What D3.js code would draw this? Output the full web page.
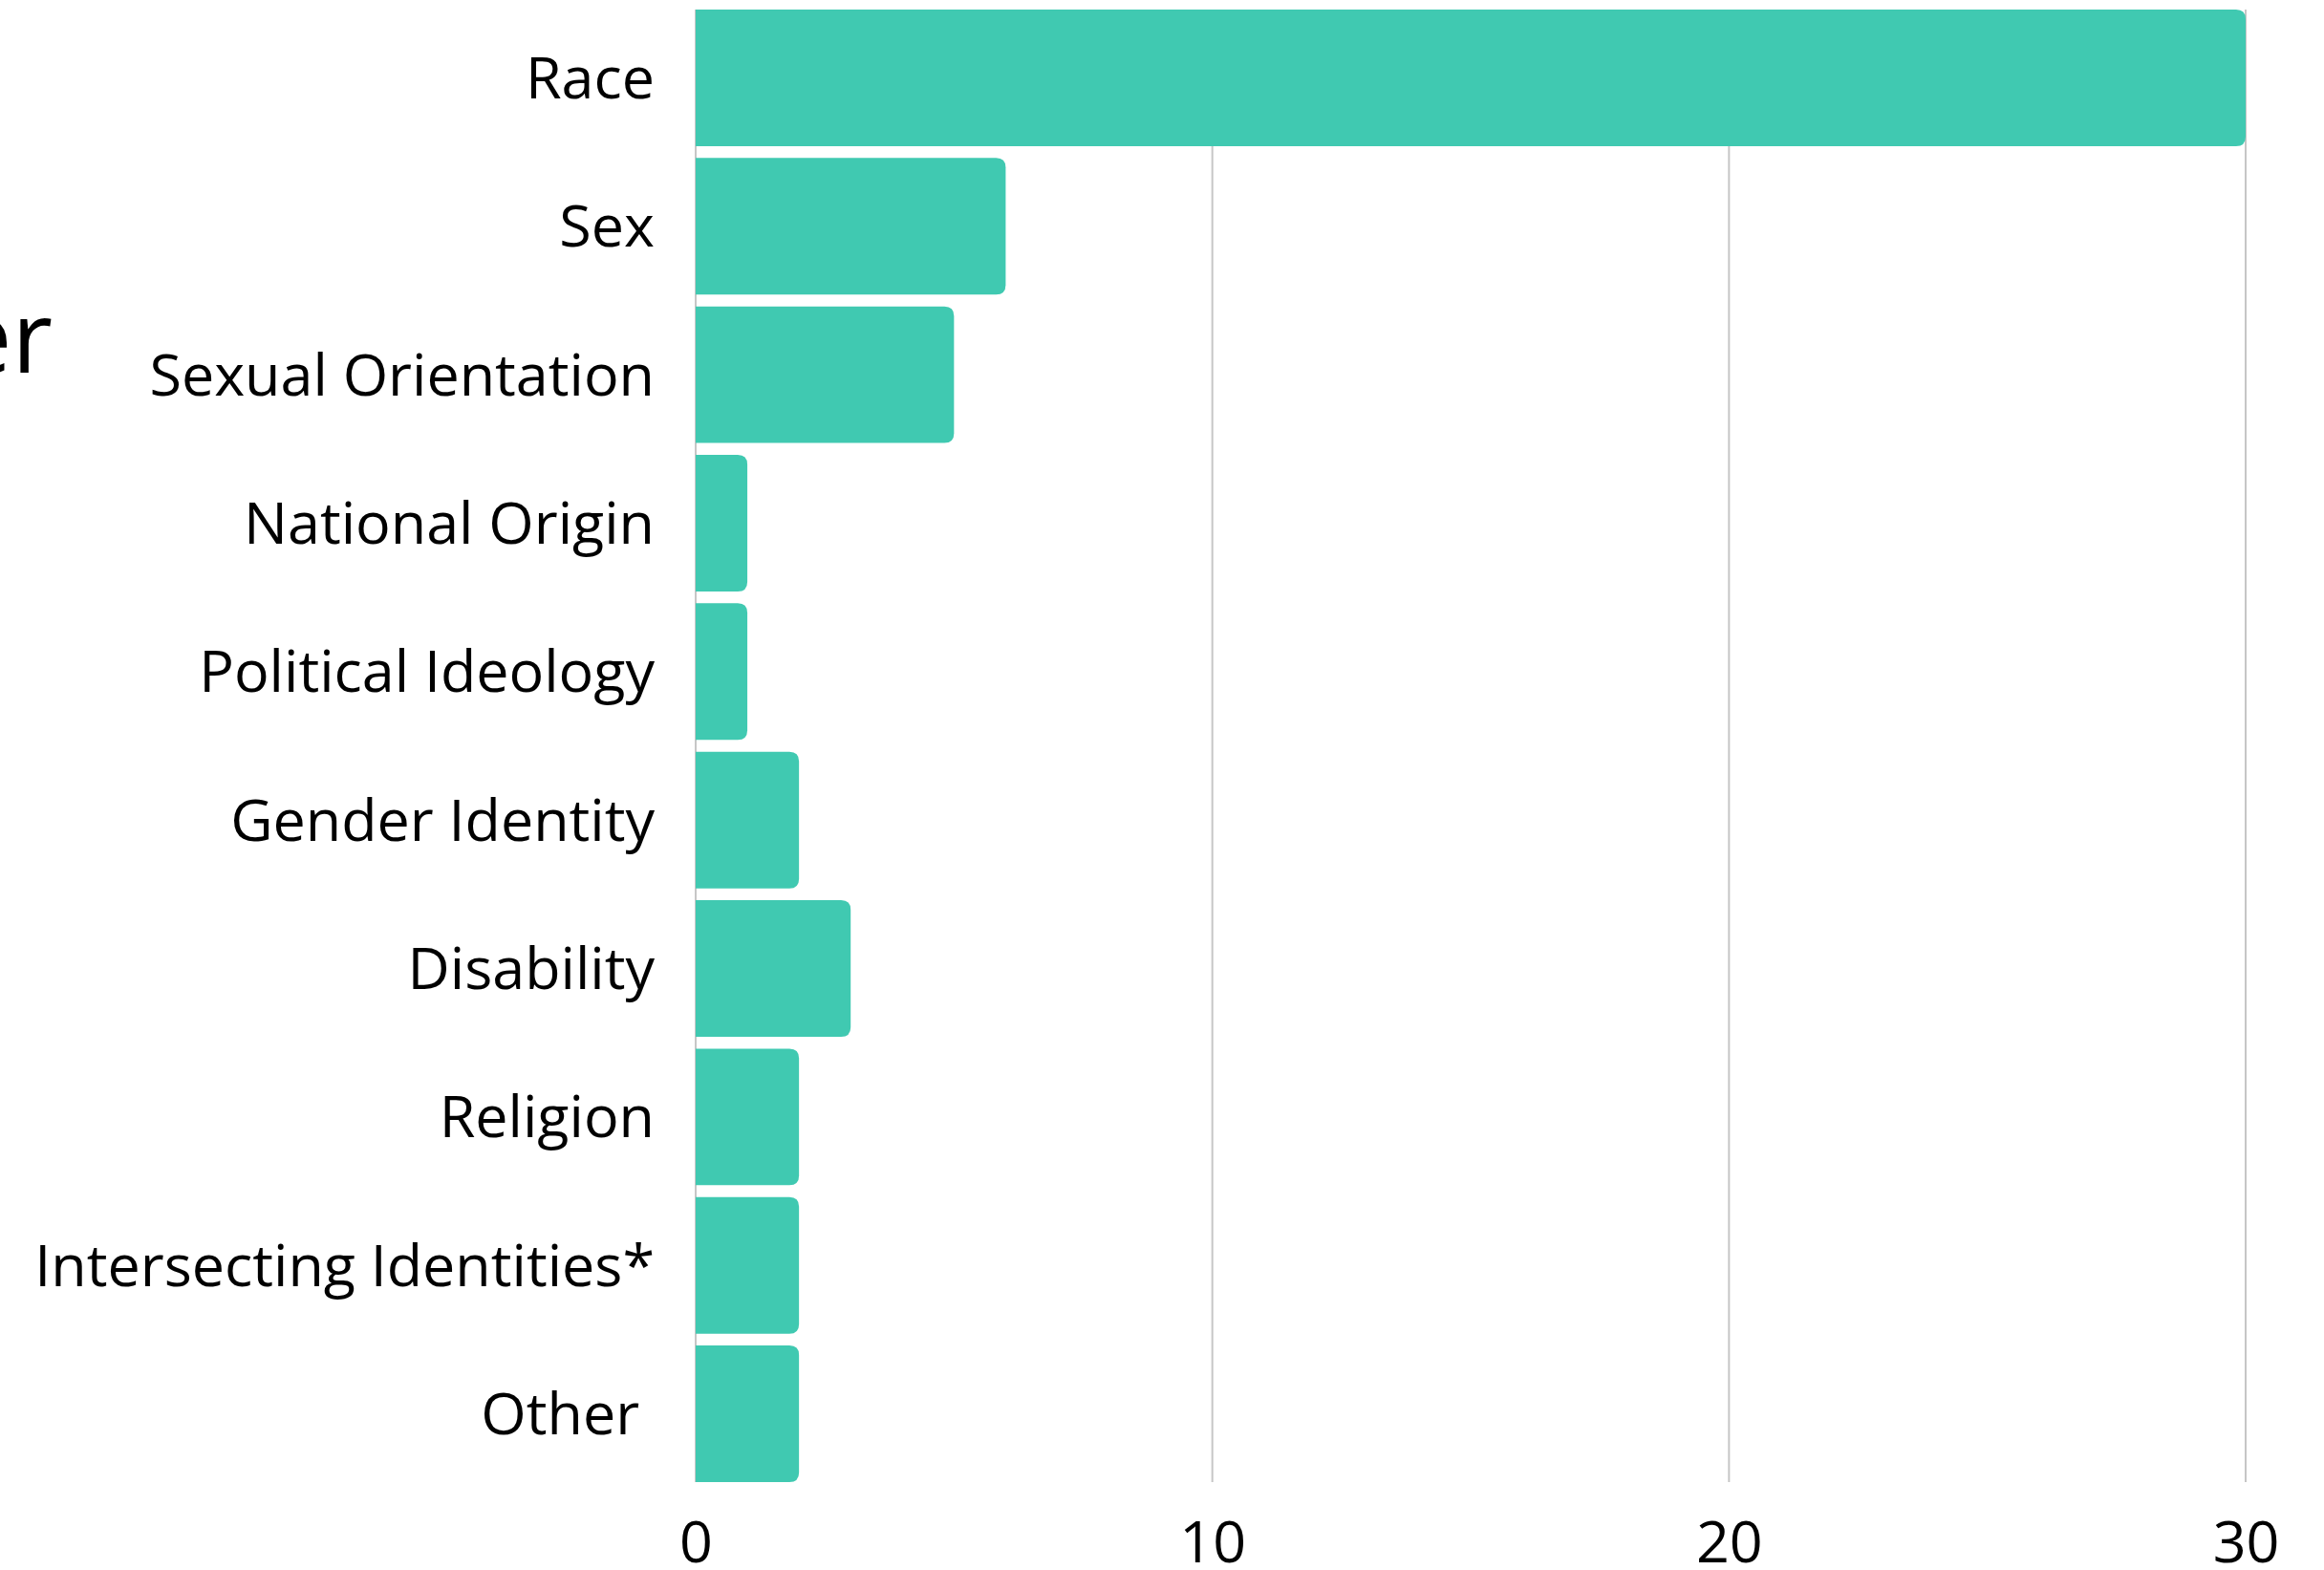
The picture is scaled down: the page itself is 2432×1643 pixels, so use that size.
<!DOCTYPE html>
<html>
<head>
<meta charset="utf-8">
<script src="https://cdn.jsdelivr.net/npm/d3@7"></script>
<style>
  body { margin: 0; background: #fff; }
  text { font-family: "Open Sans", "Noto Sans", sans-serif; fill: #000; }
</style>
</head>
<body>
<div id="chart"></div>
<script>
// values
var categories = ["Race", "Sex", "Sexual Orientation", "National Origin", "Political Ideology",
                  "Gender Identity", "Disability", "Religion", "Intersecting Identities*", "Other "];
var counts = [30, 6, 5, 1, 1, 2, 3, 2, 2, 2];
var xTicks = [0, 10, 20, 30];
var titleFragment = "er";

var width = 2432, height = 1643;
var margin = { top: 10, right: 82, bottom: 92, left: 728 };
var barColor = "#40c9b1";
var gridColor = "#c6c6c6";

var svg = d3.select("#chart")
  .append("svg")
  .attr("width", width)
  .attr("height", height)
  .style("display", "block");

svg.append("rect").attr("width", width).attr("height", height).attr("fill", "#fff");

var innerW = width - margin.left - margin.right;
var innerH = height - margin.top - margin.bottom;

var g = svg.append("g")
  .attr("transform", "translate(" + margin.left + "," + margin.top + ")");

var xScale = d3.scaleLinear().domain([0, 30]).range([0, innerW]);
var yScale = d3.scaleBand()
  .domain(categories)
  .range([0, innerH])
  .paddingInner(0.08)
  .paddingOuter(0);

// gridlines
g.append("g")
  .selectAll("line")
  .data(xTicks)
  .enter()
  .append("line")
  .attr("x1", function (d) { return xScale(d); })
  .attr("x2", function (d) { return xScale(d); })
  .attr("y1", 0)
  .attr("y2", innerH)
  .attr("stroke", gridColor)
  .attr("stroke-width", 2);

// bars with rounded right corners
var r = 10;
function barPath(d, i) {
  var x0 = xScale(0), x1 = xScale(d);
  var y0 = yScale(categories[i]), h = yScale.bandwidth();
  var rr = Math.min(r, (x1 - x0) / 2);
  return "M" + x0 + "," + y0 +
    "H" + (x1 - rr) +
    "Q" + x1 + "," + y0 + " " + x1 + "," + (y0 + rr) +
    "V" + (y0 + h - rr) +
    "Q" + x1 + "," + (y0 + h) + " " + (x1 - rr) + "," + (y0 + h) +
    "H" + x0 + "Z";
}

g.selectAll("path.bar")
  .data(counts)
  .enter()
  .append("path")
  .attr("class", "bar")
  .attr("d", barPath)
  .attr("fill", barColor);

// category labels
var yAxis = g.append("g")
  .call(d3.axisLeft(yScale).tickSize(0).tickPadding(43));
yAxis.select(".domain").remove();
yAxis.selectAll("text")
  .attr("font-size", "61px")
  .attr("dy", "0.35em")
  .style("white-space", "pre")
  .style("font-family", "'Open Sans', 'Noto Sans', sans-serif");

// x tick labels
var xAxis = g.append("g")
  .attr("transform", "translate(0," + innerH + ")")
  .call(d3.axisBottom(xScale).tickValues(xTicks).tickSize(0).tickPadding(84).tickFormat(d3.format("d")));
xAxis.select(".domain").remove();
xAxis.selectAll("text")
  .attr("font-size", "61px")
  .attr("dy", "0")
  .style("font-family", "'Open Sans', 'Noto Sans', sans-serif");

// cut-off title on the far left
svg.append("text")
  .attr("x", 55)
  .attr("y", 390)
  .attr("text-anchor", "end")
  .attr("font-size", "104px")
  .text(titleFragment);
</script>
</body>
</html>
